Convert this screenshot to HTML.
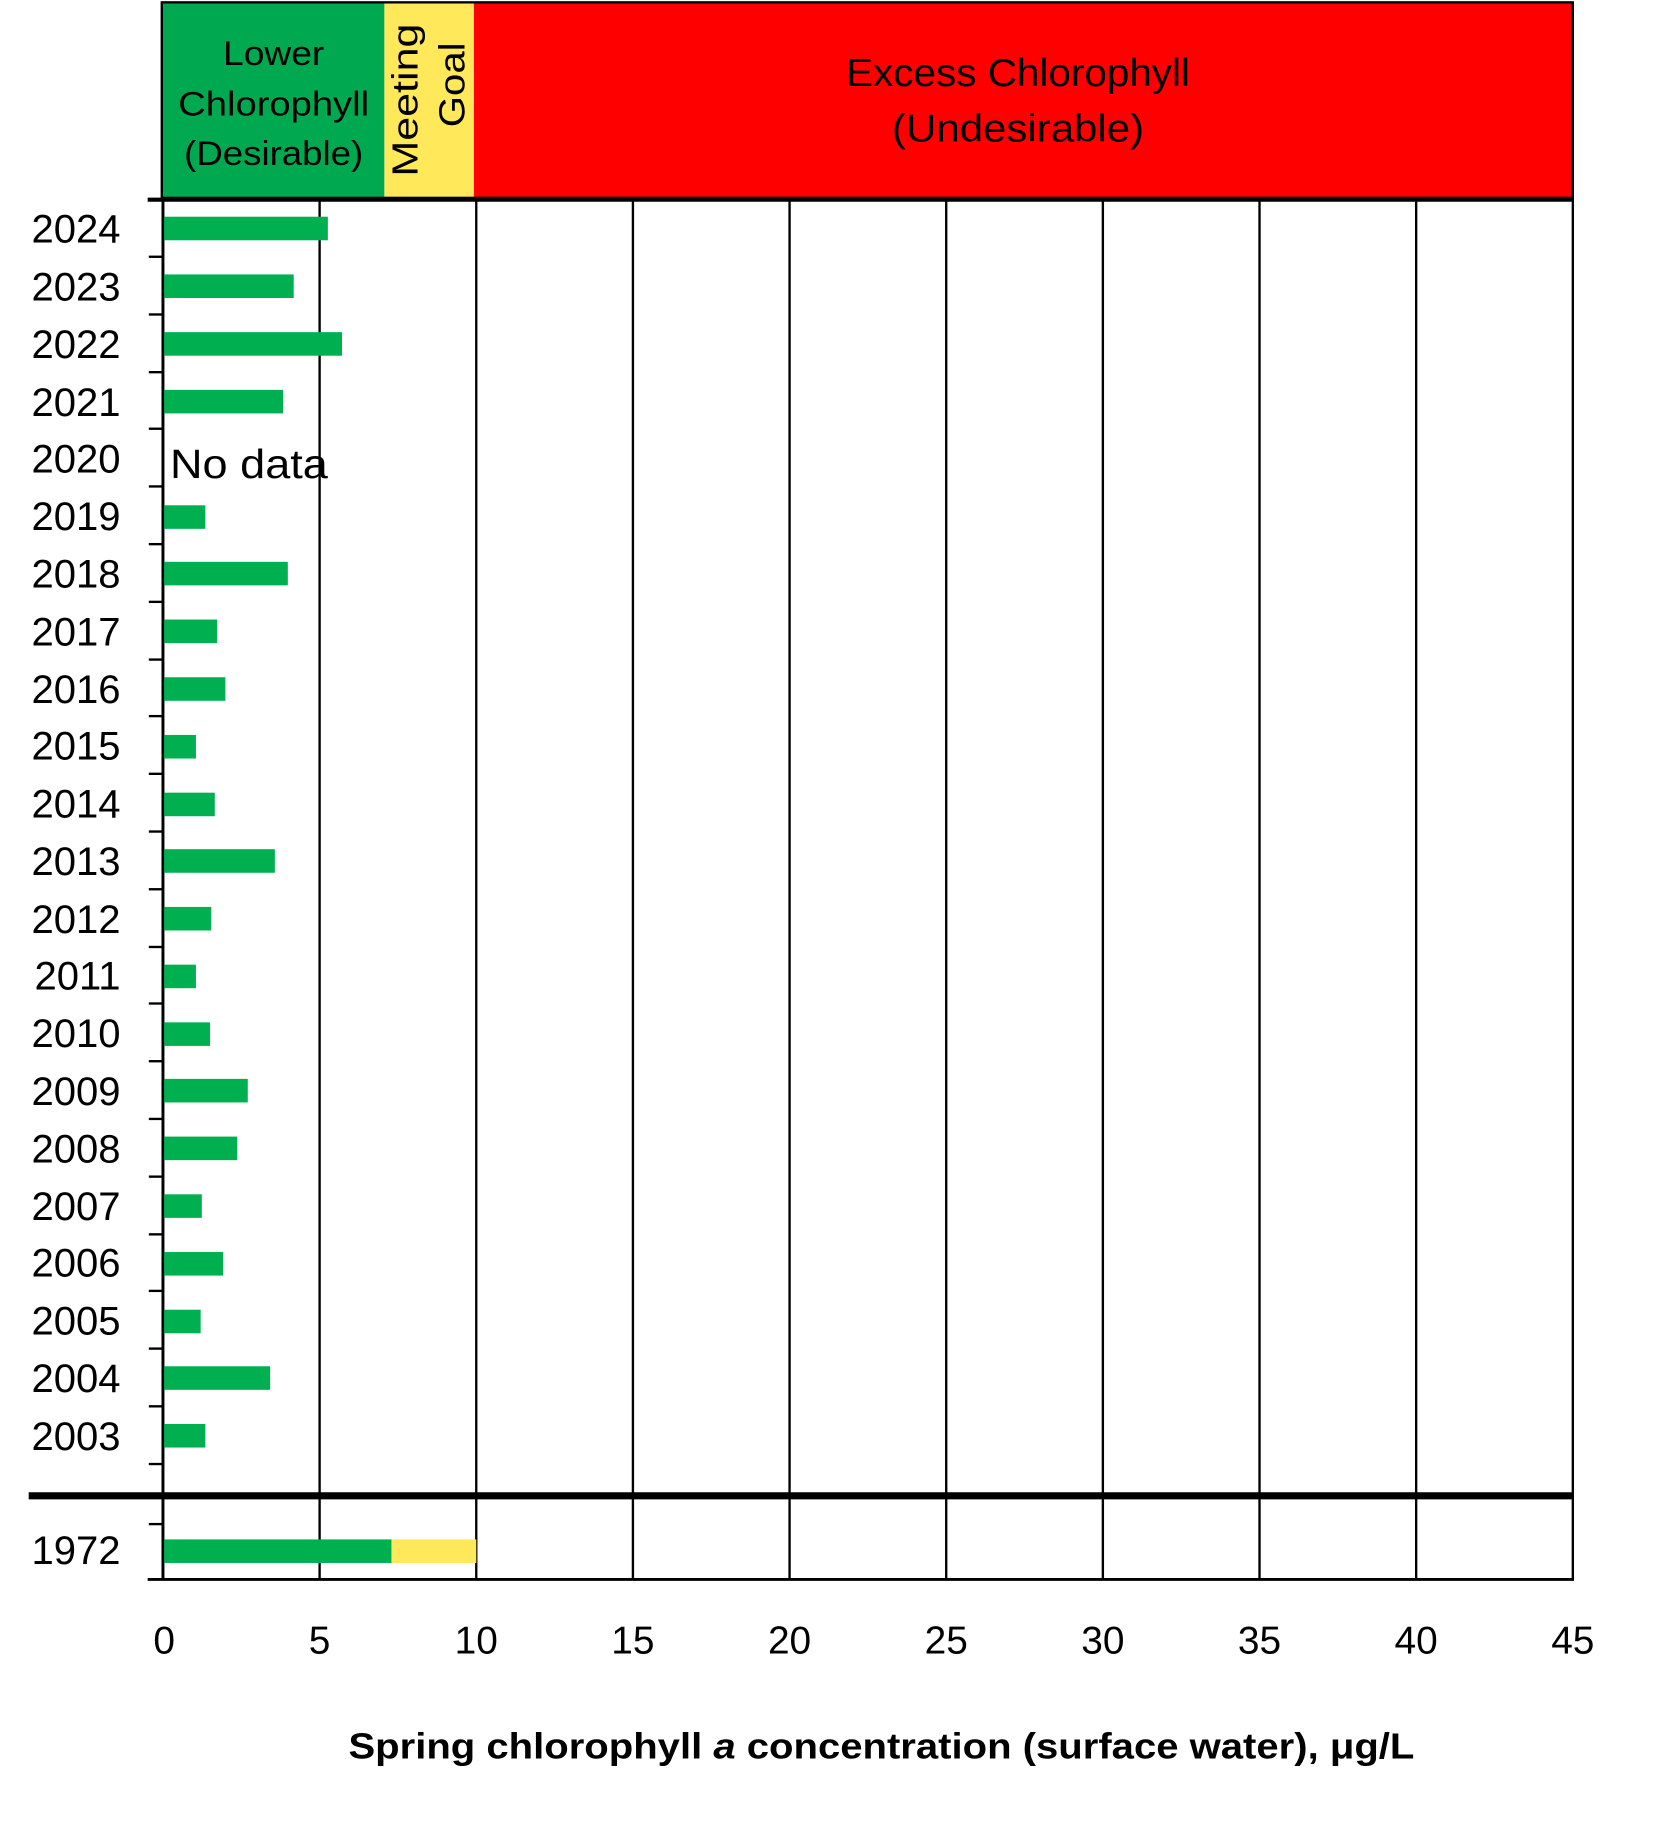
<!DOCTYPE html>
<html><head><meta charset="utf-8"><style>html,body{margin:0;padding:0;background:#fff}svg{display:block}</style></head>
<body>
<svg width="1671" height="1848" viewBox="0 0 1418 1569" xmlns="http://www.w3.org/2000/svg" font-family="'Liberation Sans', sans-serif">
<rect x="0" y="0" width="1418" height="1569" fill="#fff"/>
<!-- header -->
<rect x="137" y="2" width="189" height="166" fill="#00a84f"/>
<rect x="326" y="2" width="76" height="166" fill="#ffe95a"/>
<rect x="402" y="2" width="933" height="166" fill="#ff0000"/>
<rect x="137" y="2" width="1198" height="166" fill="none" stroke="#000" stroke-width="2"/>
<g font-size="29" text-anchor="middle" fill="#000">
<text x="232" y="55" textLength="86" lengthAdjust="spacingAndGlyphs">Lower</text>
<text x="232" y="98" textLength="162" lengthAdjust="spacingAndGlyphs">Chlorophyll</text>
<text x="232" y="140" textLength="152" lengthAdjust="spacingAndGlyphs">(Desirable)</text>
<text x="864" y="73" font-size="33" textLength="292" lengthAdjust="spacingAndGlyphs">Excess Chlorophyll</text>
<text x="864" y="120" font-size="33" textLength="214" lengthAdjust="spacingAndGlyphs">(Undesirable)</text>
<text transform="translate(354,85) rotate(-90)" font-size="31" textLength="130" lengthAdjust="spacingAndGlyphs">Meeting</text>
<text transform="translate(394,72) rotate(-90)" font-size="31" textLength="72" lengthAdjust="spacingAndGlyphs">Goal</text>
</g>
<!-- grid -->
<g stroke="#000" stroke-width="2">
<line x1="271" y1="169" x2="271" y2="1341"/>
<line x1="404" y1="169" x2="404" y2="1341"/>
<line x1="537" y1="169" x2="537" y2="1341"/>
<line x1="670" y1="169" x2="670" y2="1341"/>
<line x1="803" y1="169" x2="803" y2="1341"/>
<line x1="936" y1="169" x2="936" y2="1341"/>
<line x1="1069" y1="169" x2="1069" y2="1341"/>
<line x1="1202" y1="169" x2="1202" y2="1341"/>
<line x1="1335" y1="169" x2="1335" y2="1341"/>
<line x1="138" y1="169" x2="138" y2="1341" stroke-width="2.5"/>
<line x1="125" y1="1341" x2="1336" y2="1341" stroke-width="2.5"/>
</g>
<line x1="125" y1="169.5" x2="1336" y2="169.5" stroke="#000" stroke-width="3.5"/>
<line x1="24" y1="1270" x2="1336" y2="1270" stroke="#000" stroke-width="6"/>
<g stroke="#000" stroke-width="2">
<line x1="126" y1="218" x2="138" y2="218"/><line x1="126" y1="267" x2="138" y2="267"/>
<line x1="126" y1="316" x2="138" y2="316"/><line x1="126" y1="364" x2="138" y2="364"/>
<line x1="126" y1="413" x2="138" y2="413"/><line x1="126" y1="462" x2="138" y2="462"/>
<line x1="126" y1="511" x2="138" y2="511"/><line x1="126" y1="560" x2="138" y2="560"/>
<line x1="126" y1="608" x2="138" y2="608"/><line x1="126" y1="657" x2="138" y2="657"/>
<line x1="126" y1="706" x2="138" y2="706"/><line x1="126" y1="755" x2="138" y2="755"/>
<line x1="126" y1="804" x2="138" y2="804"/><line x1="126" y1="852" x2="138" y2="852"/>
<line x1="126" y1="901" x2="138" y2="901"/><line x1="126" y1="950" x2="138" y2="950"/>
<line x1="126" y1="999" x2="138" y2="999"/><line x1="126" y1="1048" x2="138" y2="1048"/>
<line x1="126" y1="1096" x2="138" y2="1096"/><line x1="126" y1="1145" x2="138" y2="1145"/>
<line x1="126" y1="1194" x2="138" y2="1194"/><line x1="126" y1="1243" x2="138" y2="1243"/>
<line x1="126" y1="1294" x2="138" y2="1294"/>
</g>
<!-- bars -->
<g fill="#00b050">
<rect x="139" y="184" width="139" height="20"/>
<rect x="139" y="233" width="110" height="20"/>
<rect x="139" y="282" width="151" height="20"/>
<rect x="139" y="331" width="101" height="20"/>
<rect x="139" y="429" width="35" height="20"/>
<rect x="139" y="477" width="105" height="20"/>
<rect x="139" y="526" width="45" height="20"/>
<rect x="139" y="575" width="52" height="20"/>
<rect x="139" y="624" width="27" height="20"/>
<rect x="139" y="673" width="43" height="20"/>
<rect x="139" y="721" width="94" height="20"/>
<rect x="139" y="770" width="40" height="20"/>
<rect x="139" y="819" width="27" height="20"/>
<rect x="139" y="868" width="39" height="20"/>
<rect x="139" y="916" width="71" height="20"/>
<rect x="139" y="965" width="62" height="20"/>
<rect x="139" y="1014" width="32" height="20"/>
<rect x="139" y="1063" width="50" height="20"/>
<rect x="139" y="1112" width="31" height="20"/>
<rect x="139" y="1160" width="90" height="20"/>
<rect x="139" y="1209" width="35" height="20"/>
<rect x="139" y="1307" width="193" height="20"/>
</g>
<rect x="332" y="1307" width="72" height="20" fill="#ffe95a"/>
<text x="144" y="406" font-size="35" textLength="134" lengthAdjust="spacingAndGlyphs">No data</text>
<g font-size="34" text-anchor="end">
<text x="102" y="206">2024</text><text x="102" y="255">2023</text><text x="102" y="304">2022</text>
<text x="102" y="353">2021</text><text x="102" y="401">2020</text><text x="102" y="450">2019</text>
<text x="102" y="499">2018</text><text x="102" y="548">2017</text><text x="102" y="597">2016</text>
<text x="102" y="645">2015</text><text x="102" y="694">2014</text><text x="102" y="743">2013</text>
<text x="102" y="792">2012</text><text x="102" y="840">2011</text><text x="102" y="889">2010</text>
<text x="102" y="938">2009</text><text x="102" y="987">2008</text><text x="102" y="1036">2007</text>
<text x="102" y="1084">2006</text><text x="102" y="1133">2005</text><text x="102" y="1182">2004</text>
<text x="102" y="1231">2003</text><text x="102" y="1328">1972</text>
</g>
<g font-size="33" text-anchor="middle">
<text x="139" y="1404">0</text><text x="271" y="1404">5</text><text x="404" y="1404">10</text>
<text x="537" y="1404">15</text><text x="670" y="1404">20</text><text x="803" y="1404">25</text>
<text x="936" y="1404">30</text><text x="1069" y="1404">35</text><text x="1202" y="1404">40</text>
<text x="1335" y="1404">45</text>
</g>
<text x="748" y="1493" font-size="31" font-weight="bold" text-anchor="middle" textLength="905" lengthAdjust="spacingAndGlyphs">Spring chlorophyll <tspan font-style="italic">a</tspan> concentration (surface water), μg/L</text>
</svg>
</body></html>
